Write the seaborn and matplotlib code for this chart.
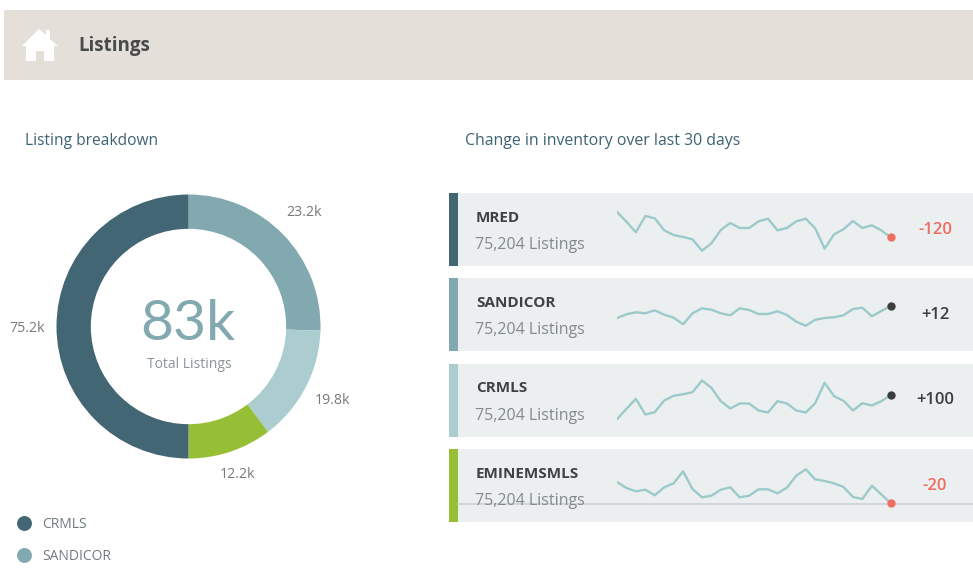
import matplotlib
matplotlib.use('Agg')
import matplotlib.pyplot as plt
from matplotlib.patches import Rectangle, Polygon
import pandas as pd
import seaborn as sns

## Data
slice_shares = [25.5, 14.2, 10.3, 50.0]
slice_labels = ['23.2k', '19.8k', '12.2k', '75.2k']
slice_colors = ['#82a8b0', '#abcdd0', '#97bf36', '#436674']

legend_names = ['CRMLS', 'SANDICOR']
legend_colors = ['#436674', '#82a8b0']

card_names = ['MRED', 'SANDICOR', 'CRMLS', 'EMINEMSMLS']
card_subs = ['75,204 Listings'] * 4
card_changes = ['-120', '+12', '+100', '-20']
card_colors = ['#436674', '#82a8b0', '#abcdd0', '#97bf36']

mred = [54, 44.3, 33.7, 50, 47.7, 35.7, 31, 29, 26.7, 15.3, 22.7, 36, 43, 38, 38,
        44.7, 47.3, 35.7, 38, 44.7, 47.3, 37.7, 17.3, 31.7, 36.7, 45, 38, 40.7, 35.7, 28.7]
sandicor = [33, 36.7, 38.7, 37.7, 40.7, 36.3, 33.3, 26.7, 37.7, 42.7, 41.3, 37.7, 35.7, 42.7, 41,
            37, 37, 39.7, 36, 29.3, 25.3, 31.3, 33, 33.7, 35.7, 42, 43.3, 34.7, 40, 45]
crmls = [17.3, 27.7, 37.7, 22, 24.3, 36, 40.7, 42.3, 44.3, 56, 48.7, 35.3, 28, 33, 33,
         26, 24, 35.3, 33, 26, 24, 33.3, 53.7, 40.3, 35.7, 26, 33.3, 31, 35.3, 41.3]
eminem = [40, 34, 30.7, 32.3, 26.7, 34.7, 38.7, 50.7, 33, 24.7, 26.3, 32.3, 34.7, 24.7, 26.3,
          32.7, 32.7, 28.7, 34.3, 46.3, 52.7, 42.7, 41, 38.7, 35, 25, 23, 36.3, 27.7, 18.7]
spark_series = [mred, sandicor, crmls, eminem]
days = list(range(30))

RED = '#ee6f60'
DARK = '#3b3d3f'
spark_end = [RED, DARK, DARK, RED]

sns.set_theme(style='white')
plt.rcParams['font.family'] = ['Open Sans', 'DejaVu Sans']

W, H = 973, 571
fig = plt.figure(figsize=(W / 100, H / 100), dpi=100, facecolor='white')

# page layer, in pixels
page = fig.add_axes([0, 0, 1, 1])
page.set_xlim(0, W)
page.set_ylim(H, 0)
page.axis('off')

page.add_patch(Rectangle((4, 10), 969, 70, color='#e4e0d9', lw=0))
house = [(22, 46), (39, 29), (46, 35), (46, 30), (50, 30), (50, 39), (58, 46), (54, 46), (54, 61),
         (44, 61), (44, 51), (36, 51), (36, 61), (26, 61), (26, 46)]
page.add_patch(Polygon(house, closed=True, color='white', lw=0))
page.text(78, 46.5, 'Listings', fontsize=13.5, fontweight='bold', color='#48494b', va='center')
page.text(25, 141, 'Listing breakdown', fontsize=11.2, color='#3d6373', va='center')
page.text(465, 141, 'Change in inventory over last 30 days', fontsize=11.4, color='#3d6373', va='center')

# donut
cx, cy, r = 188.5, 326.5, 132
donut = fig.add_axes([(cx - r) / W, 1 - (cy + r) / H, 2 * r / W, 2 * r / H])
donut.pie(slice_shares, colors=slice_colors, startangle=90, counterclock=False, radius=1,
          wedgeprops={'width': 0.26, 'linewidth': 0})
donut.set_xlim(-1, 1)
donut.set_ylim(-1, 1)
page.text(188, 324, '83k', fontsize=41, color='#82a8b0', ha='center', va='center',
          family=['Lato', 'DejaVu Sans'])
page.text(189.5, 364, 'Total Listings', fontsize=10, color='#8b9499', ha='center', va='center')

label_spots = [(304, 213), (332.5, 400), (237, 474), (27.5, 328.5)]
for (x, y), lab in zip(label_spots, slice_labels):
    page.text(x, y, lab, fontsize=10.2, color='#77797b', ha='center', va='center')

legend_y = [523, 555]
for name, col, y in zip(legend_names, legend_colors, legend_y):
    page.scatter([24], [y], s=115, color=col, lw=0)
    page.text(42, y + 1.5, name, fontsize=10, color='#6f7a80', va='center')

# cards with sparklines
card_tops = [193, 278, 363.5, 449]
card_h = 73
for i, top in enumerate(card_tops):
    page.add_patch(Rectangle((449, top), 524, card_h, color='#ebeff0', lw=0))
    page.add_patch(Rectangle((449, top), 9, card_h, color=card_colors[i], lw=0))
    page.text(476, top + 25, card_names[i], fontsize=11, fontweight='bold', color='#3f4244', va='center')
    page.text(475, top + 52, card_subs[i], fontsize=11.5, color='#84898c', va='center')
    page.text(935, top + 37, card_changes[i], fontsize=12, fontweight='semibold', color=spark_end[i],
              ha='center', va='center')

    ax = fig.add_axes([617 / W, 1 - (top + card_h) / H, 273.7 / W, card_h / H])
    df = pd.DataFrame({'day': days, 'value': spark_series[i]})
    sns.lineplot(data=df, x='day', y='value', color='#9ccacb', linewidth=1.7, ax=ax)
    sns.scatterplot(data=df.tail(1), x='day', y='value', color=spark_end[i], s=36, linewidth=0, ax=ax,
                    zorder=3, clip_on=False)
    ax.set_xlim(0, 29)
    ax.set_ylim(0, card_h)
    ax.axis('off')

# grey baseline on the last card
page.plot([458, 973], [503.7, 503.7], color='#c9cfd4', lw=1.1)

fig.savefig('out.png', dpi=100)
